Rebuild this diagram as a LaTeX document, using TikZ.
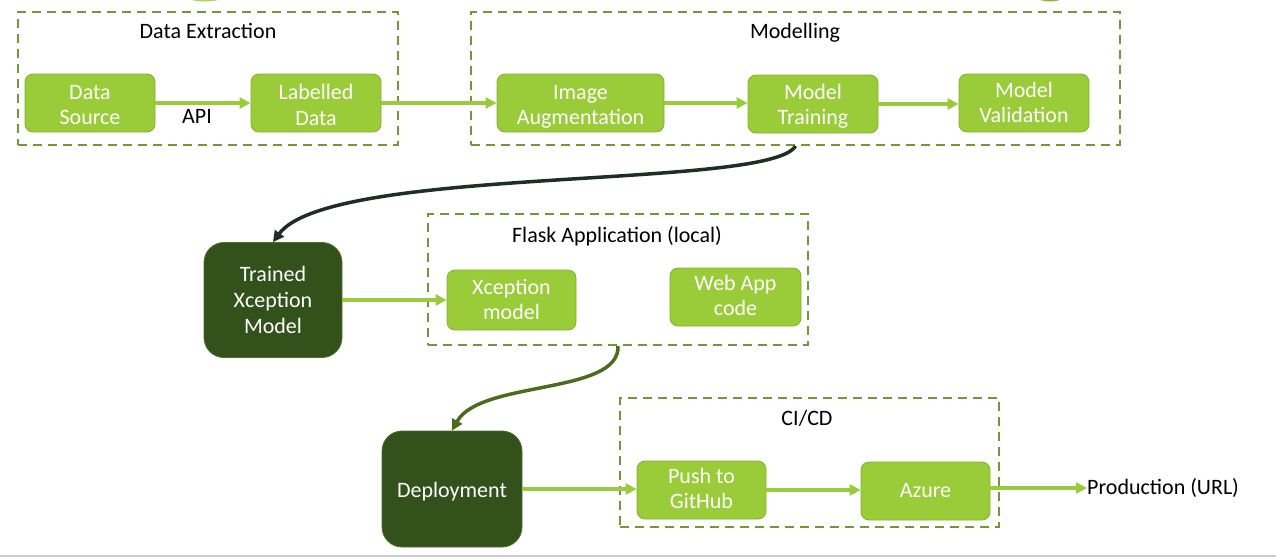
\documentclass[tikz,border=0pt]{standalone}
\usepackage{fontspec}
\setmainfont{Carlito}
\usetikzlibrary{arrows.meta}
\definecolor{lgreen}{HTML}{9ACB38}
\definecolor{lgborder}{HTML}{84B02C}
\definecolor{dgreen}{HTML}{33511B}
\definecolor{dgborder}{HTML}{4E6F2A}
\definecolor{dashcol}{HTML}{76963A}
\definecolor{arrowg}{HTML}{99CC3A}
\definecolor{curvedark}{HTML}{1F2E23}
\definecolor{curveolive}{HTML}{4D6B1F}
\newcommand\boxtxt[2]{\raisebox{-#1}[\height][\depth]{\begin{tabular}{@{}c@{}}#2\end{tabular}}}
\tikzset{
  every node/.style={font=\fontsize{22}{25.5}\selectfont},
  gbox/.style={draw=lgborder, line width=0.8pt, fill=lgreen, rounded corners=8pt, text=white, align=center, inner sep=0pt},
  dbox/.style={draw=dgborder, line width=0.8pt, fill=dgreen, rounded corners=20pt, text=white, align=center, inner sep=0pt},
  grp/.style={draw=dashcol, line width=2pt, dash pattern=on 9pt off 6pt, inner sep=0pt},
  lbl/.style={text=black, inner sep=0pt},
  garrow/.style={draw=arrowg, line width=3.5pt, -{Triangle[length=11pt,width=11pt]}},
  carrow/.style={line width=3.5pt, -{Triangle[length=11pt,width=11pt]}},
}
\begin{document}
\begin{tikzpicture}[x=1pt,y=-1pt]
\useasboundingbox (0,0) rectangle (1276,558);
\fill[white] (0,0) rectangle (1276,558);
% cropped shapes at the top edge
\fill[lgreen!80] (205,-14) ellipse [x radius=31pt, y radius=15.5pt];
\fill[arrowg!90!black] (1050,-14) ellipse [x radius=23pt, y radius=15.5pt];
\draw[line width=1.5pt, black!20] (0,556) -- (1276,556);
% groups
\node[grp, minimum width=380pt, minimum height=133pt] (debox) at (208,78.5) {};
\node[grp, minimum width=649pt, minimum height=133pt] (mbox) at (795.5,78.5) {};
\node[grp, minimum width=380pt, minimum height=131pt] (fbox) at (618,279.5) {};
\node[grp, minimum width=379pt, minimum height=129pt] (cbox) at (809.5,462.5) {};
\node[lbl] (detitle) at (208,31) {Data Extraction};
\node[lbl] (mtitle) at (795,33) {Modelling};
\node[lbl] (ftitle) at (617,236) {Flask Application (local)};
\node[lbl] (ctitle) at (807,418) {CI/CD};
% boxes
\node[gbox, minimum width=130pt, minimum height=58pt] (ds) at (90,103) {\boxtxt{4pt}{Data\\Source}};
\node[gbox, minimum width=130pt, minimum height=58pt] (ld) at (316,103) {\boxtxt{4.5pt}{Labelled\\Data}};
\node[gbox, minimum width=167pt, minimum height=58pt] (ia) at (580.5,103) {\boxtxt{4pt}{Image\\Augmentation}};
\node[gbox, minimum width=130pt, minimum height=58pt] (mt) at (813,104) {\boxtxt{3pt}{Model\\Training}};
\node[gbox, minimum width=130pt, minimum height=58pt] (mv) at (1024,103) {\boxtxt{2pt}{Model\\Validation}};
\node[dbox, minimum width=138pt, minimum height=115pt, font=\fontsize{22}{26}\selectfont] (tx) at (273,300) {\boxtxt{2pt}{Trained\\Xception\\Model}};
\node[gbox, minimum width=129pt, minimum height=60pt] (xm) at (511.5,300) {\boxtxt{2pt}{Xception\\model}};
\node[gbox, minimum width=131pt, minimum height=58pt] (wa) at (735.5,297) {\boxtxt{1pt}{Web App\\code}};
\node[dbox, minimum width=140pt, minimum height=116pt] (dep) at (452,489) {\boxtxt{3pt}{Deployment}};
\node[gbox, minimum width=129pt, minimum height=58pt] (pg) at (701.5,490) {\boxtxt{1pt}{Push to\\GitHub}};
\node[gbox, minimum width=129pt, minimum height=58pt] (az) at (925.5,491) {\boxtxt{1pt}{Azure}};
\node[lbl, anchor=west] (prod) at (1087,488) {Production (URL)};
\node[lbl] (api) at (197,116) {API};
% arrows
\draw[garrow] (ds.east) -- (ld.west);
\draw[garrow] (ld.east) -- (ld.east -| ia.west);
\draw[garrow] (ia.east) -- (ia.east -| mt.west);
\draw[garrow] (mt.east) -- (mt.east -| mv.west);
\draw[garrow] (tx.east) -- (tx.east -| xm.west);
\draw[garrow] (dep.east) -- (dep.east -| pg.west);
\draw[garrow] (pg.east) -- ([yshift=1pt]az.west);
\draw[garrow] (az.east |- prod.west) -- (prod.west);
\draw[carrow, draw=curvedark] (mbox.south) .. controls (770,190) and (330,165) .. (tx.north);
\draw[carrow, draw=curveolive] (fbox.south) .. controls (620,395) and (480,380) .. (dep.north);
\end{tikzpicture}
\end{document}
